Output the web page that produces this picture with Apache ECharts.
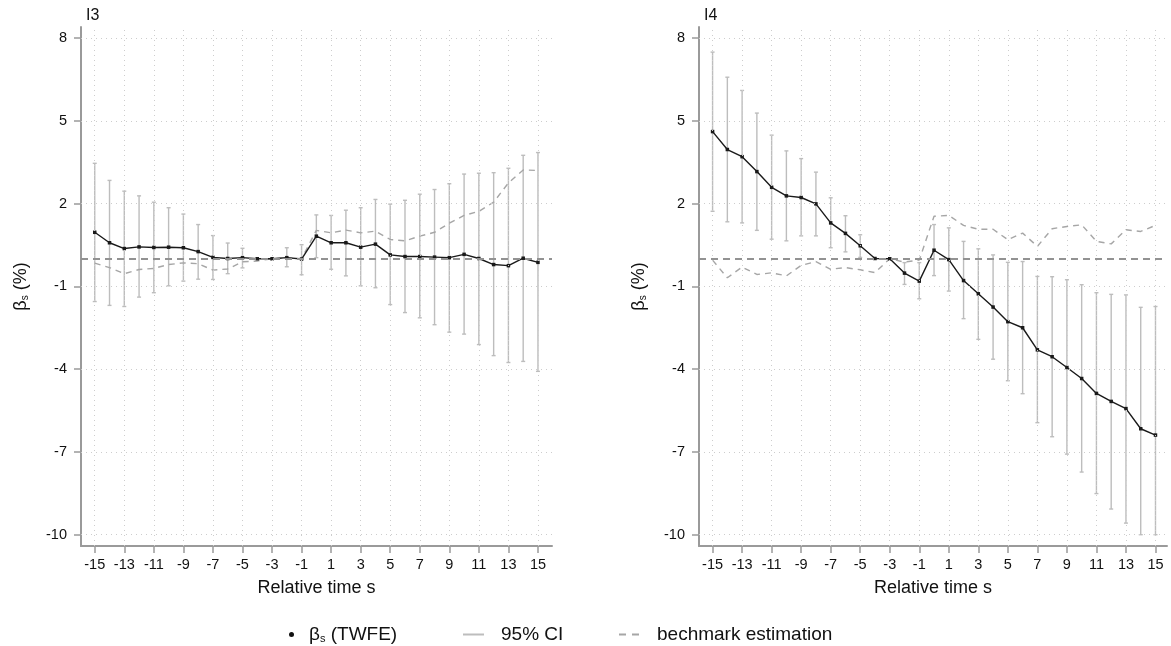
<!DOCTYPE html>
<html>
<head>
<meta charset="utf-8">
<script src="https://cdn.jsdelivr.net/npm/echarts@6/dist/echarts.min.js"></script>
<style>
html,body{margin:0;padding:0;background:#fff;}
#chart{width:1171px;height:646px;}
</style>
</head>
<body>
<div id="chart"></div>
<script>
// ---- data ----
const relTime = [-15,-14,-13,-12,-11,-10,-9,-8,-7,-6,-5,-4,-3,-2,-1,0,1,2,3,4,5,6,7,8,9,10,11,12,13,14,15];
const xTickLabels = [-15,-13,-11,-9,-7,-5,-3,-1,1,3,5,7,9,11,13,15];
const yTickLabels = [-10,-7,-4,-1,2,5,8];
const panelTitles = ['I3', 'I4'];

const i3Beta = [0.96,0.58,0.37,0.43,0.41,0.42,0.40,0.26,0.05,0.01,0.04,0,0,0.04,-0.01,0.82,0.58,0.58,0.42,0.53,0.14,0.08,0.08,0.06,0.04,0.16,0.01,-0.21,-0.25,0.02,-0.13];
const i3Hi   = [3.46,2.84,2.45,2.28,2.05,1.85,1.62,1.24,0.84,0.57,0.38,null,null,0.40,0.51,1.59,1.57,1.76,1.85,2.15,1.98,2.12,2.34,2.51,2.72,3.07,3.10,3.12,3.28,3.75,3.85];
const i3Lo   = [-1.55,-1.69,-1.73,-1.39,-1.23,-0.98,-0.81,-0.74,-0.75,-0.54,-0.33,null,null,-0.29,-0.58,0.04,-0.38,-0.62,-0.98,-1.05,-1.66,-1.95,-2.14,-2.39,-2.66,-2.73,-3.11,-3.51,-3.76,-3.72,-4.08];
const i3Bench= [-0.16,-0.32,-0.54,-0.39,-0.35,-0.21,-0.15,-0.18,-0.41,-0.37,-0.11,-0.08,0,0.03,0,1.03,0.94,1.04,0.94,1.0,0.70,0.65,0.82,0.96,1.29,1.57,1.72,2.05,2.75,3.22,3.20];

const i4Beta = [4.61,3.96,3.70,3.16,2.59,2.28,2.22,1.99,1.30,0.92,0.47,0.01,0,-0.52,-0.81,0.31,-0.03,-0.79,-1.27,-1.75,-2.28,-2.50,-3.30,-3.55,-3.94,-4.34,-4.88,-5.17,-5.43,-6.16,-6.39];
const i4Hi   = [7.49,6.58,6.10,5.28,4.48,3.91,3.63,3.14,2.21,1.56,0.87,null,null,-0.14,-0.14,1.24,1.12,0.63,0.36,0.14,-0.13,-0.10,-0.64,-0.65,-0.76,-0.94,-1.23,-1.29,-1.31,-1.76,-1.73];
const i4Lo   = [1.72,1.34,1.30,1.03,0.71,0.65,0.83,0.83,0.40,0.25,0.05,null,null,-0.93,-1.45,-0.61,-1.17,-2.17,-2.92,-3.64,-4.42,-4.89,-5.94,-6.45,-7.08,-7.73,-8.51,-9.07,-9.58,-10,-10];
const i4Bench= [-0.05,-0.69,-0.30,-0.57,-0.51,-0.62,-0.24,-0.10,-0.38,-0.32,-0.40,-0.50,0,-0.12,-0.05,1.54,1.57,1.21,1.07,1.07,0.69,0.93,0.45,1.09,1.17,1.23,0.63,0.54,1.05,0.99,1.21];

const panels = [
  {beta: i3Beta, lo: i3Lo, hi: i3Hi, bench: i3Bench},
  {beta: i4Beta, lo: i4Lo, hi: i4Hi, bench: i4Bench}
];

const FONT = "'Liberation Sans', Arial, sans-serif";
const NAME_BETA = 'βs (TWFE)';
const NAME_CI = '95% CI';
const NAME_BENCH = 'bechmark estimation';

const grids = [
  {left: 81, top: 27, width: 471, height: 519},
  {left: 699, top: 27, width: 468, height: 519}
];
const xRanges = [[-15.93, 15.95], [-15.92, 15.78]];

const chart = echarts.init(document.getElementById('chart'), null, {renderer: 'canvas'});

const xAxes = [], yAxes = [], series = [], titles = [];
panels.forEach((p, k) => {
  titles.push({
    text: panelTitles[k], left: grids[k].left, top: 3,
    textStyle: {fontFamily: FONT, fontSize: 16, fontWeight: 'normal', color: '#111'}
  });
  xAxes.push({
    gridIndex: k, type: 'value', min: xRanges[k][0], max: xRanges[k][1],
    name: 'Relative time s', nameLocation: 'middle', nameGap: 33,
    nameTextStyle: {fontFamily: FONT, fontSize: 18, color: '#111'},
    axisLine: {show: true, onZero: false, lineStyle: {color: '#9a9a9a', width: 2}},
    axisTick: {show: true, length: 7, customValues: xTickLabels, lineStyle: {color: '#9a9a9a', width: 1.5}},
    axisLabel: {customValues: xTickLabels, margin: 11, fontFamily: FONT, fontSize: 14.5, color: '#111'},
    splitLine: {show: false}
  });
  yAxes.push({
    gridIndex: k, type: 'value', min: -10.41, max: 8.4,
    name: '{t|β}{s|s}{t| (%)}', nameLocation: 'middle', nameGap: 51,
    nameTextStyle: {fontFamily: FONT, color: '#111',
      rich: {t: {fontFamily: FONT, fontSize: 18, color: '#111', verticalAlign: 'bottom'},
             s: {fontFamily: FONT, fontSize: 10, color: '#111', verticalAlign: 'bottom'}}},
    axisLine: {show: true, onZero: false, lineStyle: {color: '#9a9a9a', width: 2}},
    axisTick: {show: true, length: 7, customValues: yTickLabels, lineStyle: {color: '#9a9a9a', width: 1.5}},
    axisLabel: {customValues: yTickLabels, margin: 14, fontFamily: FONT, fontSize: 14.5, color: '#111'},
    splitLine: {show: false}
  });

  // dotted grid lines at the labelled ticks
  series.push({
    name: 'grid' + k, type: 'line', xAxisIndex: k, yAxisIndex: k, data: [],
    silent: true, z: 1,
    markLine: {
      silent: true, symbol: 'none', label: {show: false}, animation: false,
      lineStyle: {color: '#cdcdcd', width: 1, type: [1, 4]},
      data: yTickLabels.map(v => ({yAxis: v})).concat(xTickLabels.map(v => ({xAxis: v})))
    }
  });

  const ciData = [];
  relTime.forEach((x, i) => { if (p.lo[i] != null && p.hi[i] != null) ciData.push([x, p.lo[i], p.hi[i]]); });

  series.push({
    name: NAME_CI, type: 'custom', xAxisIndex: k, yAxisIndex: k, clip: true,
    itemStyle: {color: '#bdbdbd'},
    data: ciData,
    encode: {x: 0, y: [1, 2]},
    renderItem: function (params, api) {
      const x = api.value(0);
      const a = api.coord([x, api.value(1)]);
      const b = api.coord([x, api.value(2)]);
      const c = 2;
      const st = {stroke: '#bdbdbd', lineWidth: 1.4};
      return {type: 'group', children: [
        {type: 'line', shape: {x1: a[0], y1: a[1], x2: b[0], y2: b[1]}, style: st},
        {type: 'line', shape: {x1: a[0]-c, y1: a[1], x2: a[0]+c, y2: a[1]}, style: st},
        {type: 'line', shape: {x1: b[0]-c, y1: b[1], x2: b[0]+c, y2: b[1]}, style: st}
      ]};
    },
    z: 2
  });
  series.push({
    name: NAME_BENCH, type: 'line', xAxisIndex: k, yAxisIndex: k,
    data: relTime.map((x, i) => [x, p.bench[i]]),
    symbol: 'none', color: '#a6a6a6',
    lineStyle: {color: '#a6a6a6', width: 1.4, type: [6, 5]},
    z: 3
  });
  series.push({
    name: NAME_BETA, type: 'line', xAxisIndex: k, yAxisIndex: k,
    data: relTime.map((x, i) => [x, p.beta[i]]),
    symbol: 'rect', symbolSize: 3.5, color: '#1a1a1a',
    itemStyle: {color: '#1a1a1a'},
    lineStyle: {color: '#1a1a1a', width: 1.4},
    markLine: {
      silent: true, symbol: 'none', label: {show: false},
      lineStyle: {color: '#929292', width: 2, type: [7, 5]},
      data: [{yAxis: 0}]
    },
    z: 4
  });
});

const legTop = 620;
const legText = {fontFamily: FONT, fontSize: 19, color: '#111'};

const option = {
  animation: false,
  backgroundColor: '#ffffff',
  title: titles,
  grid: grids,
  xAxis: xAxes,
  yAxis: yAxes,
  legend: [
    {
      left: 284, top: legTop, selectedMode: false,
      icon: 'circle', itemWidth: 5, itemHeight: 5,
      data: [{name: NAME_BETA, itemStyle: {color: '#111'}}],
      formatter: () => '{p|}{t|β}{s|s}{t| (TWFE)}',
      textStyle: Object.assign({}, legText, {rich: {
        p: {width: 10},
        t: {fontFamily: FONT, fontSize: 19, color: '#111', verticalAlign: 'bottom'},
        s: {fontFamily: FONT, fontSize: 11, color: '#111', verticalAlign: 'bottom'}
      }})
    },
    {
      left: 458, top: legTop, selectedMode: false,
      itemWidth: 21, itemHeight: 2,
      data: [{name: NAME_CI, icon: 'rect', itemStyle: {color: '#bdbdbd'}}],
      formatter: n => '{p|}' + n,
      textStyle: Object.assign({}, legText, {rich: {p: {width: 12}}})
    },
    {
      left: 614, top: legTop, selectedMode: false,
      itemWidth: 20, itemHeight: 2,
      data: [{name: NAME_BENCH, icon: 'path://M0,0h7v2h-7z M13,0h7v2h-7z', itemStyle: {color: '#a6a6a6'}}],
      formatter: n => '{p|}' + n,
      textStyle: Object.assign({}, legText, {rich: {p: {width: 13}}})
    }
  ],
  series: series
};
chart.setOption(option);
</script>
</body>
</html>
